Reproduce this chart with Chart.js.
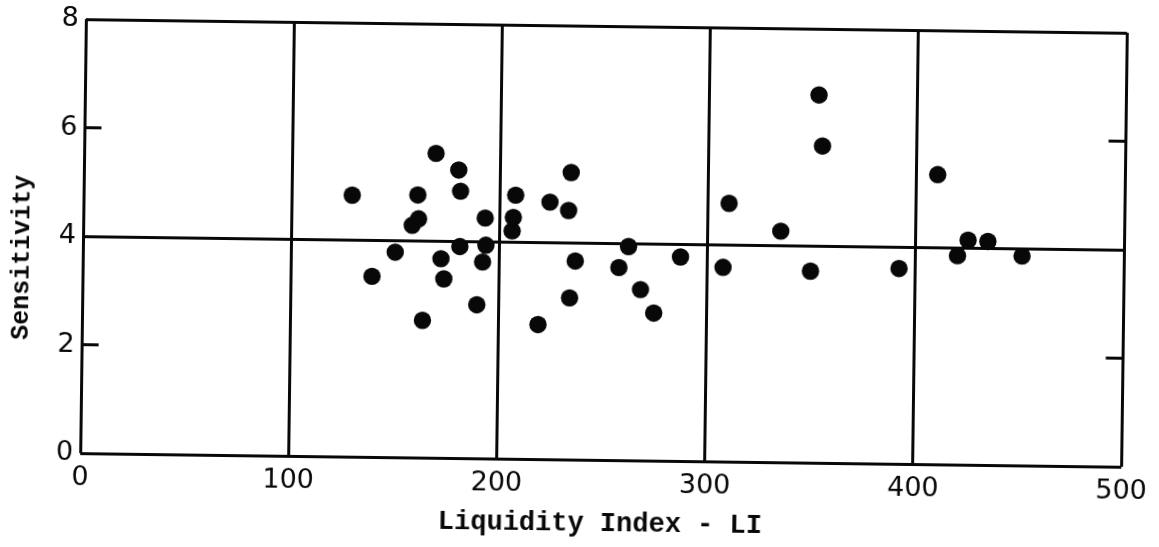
<!DOCTYPE html>
<html>
<head>
<meta charset="utf-8">
<script src="https://cdn.jsdelivr.net/npm/chart.js@4.4.1/dist/chart.umd.min.js"></script>
<style>
  html, body { margin: 0; padding: 0; background: #ffffff; }
  #wrap { position: relative; width: 1159px; height: 547px; }
  /* the printed sheet sits slightly askew */
  #chart { display: block; transform: rotate(0.75deg); transform-origin: 606px 243px; }
</style>
</head>
<body>
<div id="wrap"><canvas id="chart" width="1159" height="547"></canvas></div>
<script>
// Liquidity index of each sample
const liquidityIndex = [129, 139, 150, 158, 161, 160.5, 163.5, 169, 172, 173.5,
  180, 181, 181, 189.5, 192, 193, 193.5, 207.5, 206.5, 206,
  219, 224, 233, 234, 234, 236.5, 257.5, 262, 268, 274.5,
  287, 307.5, 310, 335, 349.5, 352.5, 354.5, 392, 410, 420,
  425, 434.5, 451];
// Sensitivity of each sample
const sensitivity = [4.82, 3.33, 3.78, 4.28, 4.40, 4.84, 2.53, 5.61, 3.67, 3.30,
  5.31, 4.92, 3.90, 2.83, 3.62, 4.43, 3.93, 4.86, 4.45, 4.20,
  2.48, 4.74, 4.59, 2.98, 5.29, 3.66, 3.55, 3.94, 3.15, 2.72,
  3.76, 3.58, 4.76, 4.26, 3.53, 6.78, 5.84, 3.60, 5.34, 3.85,
  4.14, 4.12, 3.86];

const xTicks = [0, 100, 200, 300, 400, 500];
const yTicks = [0, 2, 4, 6, 8];
const yRuled = [0, 4, 8];     // full-width horizontal rules
const yShortTicks = [2, 6];   // short inside marks on both sides

const INK = '#080808';
const LINE_W = 3;
const TYPE_FONT = '"Courier New", "Liberation Mono", monospace';
const points = liquidityIndex.map((x, i) => ({ x: x, y: sensitivity[i] }));

// short tick marks drawn inward from the left and right frame
const innerTicks = {
  id: 'innerTicks',
  afterDatasetsDraw(chart) {
    const { ctx, chartArea, scales } = chart;
    ctx.save();
    ctx.strokeStyle = INK;
    ctx.lineWidth = LINE_W;
    yShortTicks.forEach(v => {
      const y = scales.y.getPixelForValue(v);
      ctx.beginPath();
      ctx.moveTo(chartArea.left, y);
      ctx.lineTo(chartArea.left + 17, y);
      ctx.moveTo(chartArea.right - 17, y);
      ctx.lineTo(chartArea.right, y);
      ctx.stroke();
    });
    ctx.restore();
  }
};

// vertical axis caption, set a little below the middle of the frame
const yCaption = {
  id: 'yCaption',
  afterDraw(chart) {
    const { ctx, chartArea } = chart;
    ctx.save();
    ctx.translate(23, (chartArea.top + chartArea.bottom) / 2 + 22);
    ctx.rotate(-Math.PI / 2);
    ctx.fillStyle = INK;
    ctx.font = 'bold 25px ' + TYPE_FONT;
    ctx.textAlign = 'center';
    ctx.textBaseline = 'middle';
    ctx.fillText('Sensitivity', 0, 0);
    ctx.restore();
  }
};

new Chart(document.getElementById('chart'), {
  type: 'scatter',
  data: {
    datasets: [{
      data: points,
      pointRadius: 8.7,
      pointHoverRadius: 8.7,
      pointBackgroundColor: INK,
      pointBorderWidth: 0,
      showLine: false
    }]
  },
  options: {
    responsive: false,
    animation: false,
    layout: { padding: { top: 26, right: 30, bottom: 0, left: 0 } },
    plugins: { legend: { display: false }, tooltip: { enabled: false } },
    scales: {
      x: {
        type: 'linear',
        min: xTicks[0],
        max: xTicks[xTicks.length - 1],
        afterFit(scale) { scale.height = 87; },
        afterBuildTicks(scale) { scale.ticks = xTicks.map(v => ({ value: v })); },
        border: { display: false },
        grid: { color: INK, lineWidth: LINE_W, drawTicks: false },
        ticks: {
          color: INK,
          padding: 9,
          font: { family: 'DejaVu Sans', size: 27 },
          maxRotation: 0
        },
        title: {
          display: true,
          text: 'Liquidity Index - LI',
          color: INK,
          font: { family: TYPE_FONT, size: 27, weight: 'bold' },
          padding: { top: 0, bottom: 7 }
        }
      },
      y: {
        type: 'linear',
        min: yTicks[0],
        max: yTicks[yTicks.length - 1],
        afterFit(scale) { scale.width = 83; },
        afterBuildTicks(scale) { scale.ticks = yTicks.map(v => ({ value: v })); },
        border: { display: false },
        grid: {
          drawTicks: false,
          lineWidth: LINE_W,
          color: c => (yRuled.includes(c.tick.value) ? INK : 'rgba(0,0,0,0)')
        },
        ticks: {
          color: INK,
          padding: 7,
          font: { family: 'DejaVu Sans', size: 27 }
        }
      }
    }
  },
  plugins: [innerTicks, yCaption]
});
</script>
</body>
</html>
